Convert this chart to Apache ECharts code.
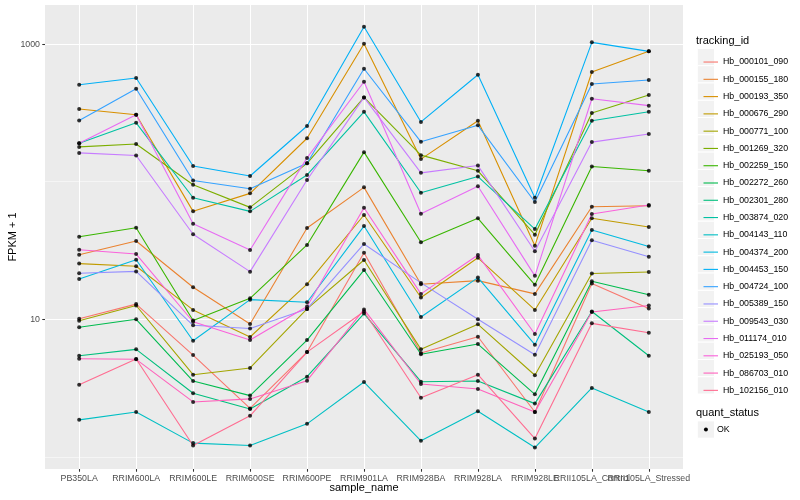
<!DOCTYPE html>
<html><head><meta charset="utf-8">
<script src="https://cdn.jsdelivr.net/npm/echarts@6/dist/echarts.min.js"></script>
<style>html,body{margin:0;padding:0;background:#fff}#c{width:800px;height:500px}</style>
</head><body><div id="c"></div>
<script>
// ---------- data ----------
const categories = ['PB350LA','RRIM600LA','RRIM600LE','RRIM600SE','RRIM600PE','RRIM901LA','RRIM928BA','RRIM928LA','RRIM928LE','RRII105LA_Control','RRII105LA_Stressed'];
const trackingIds = ['Hb_000101_090','Hb_000155_180','Hb_000193_350','Hb_000676_290','Hb_000771_100','Hb_001269_320','Hb_002259_150','Hb_002272_260','Hb_002301_280','Hb_003874_020','Hb_004143_110','Hb_004374_200','Hb_004453_150','Hb_004724_100','Hb_005389_150','Hb_009543_030','Hb_011174_010','Hb_025193_050','Hb_086703_010','Hb_102156_010'];
const seriesColors = ['#F8766D','#EA8331','#D89000','#C09B00','#A3A500','#7CAE00','#39B600','#00BB4E','#00BF7D','#00C1A3','#00BFC4','#00BAE0','#00B0F6','#35A2FF','#9590FF','#C77CFF','#E76BF3','#FA62DB','#FF62BC','#FF6C91'];

const hb000101_090 = [10.1, 12.9, 5.50, 2.25, 5.78, 30.5, 5.69, 7.47, 2.12, 18.2, 12.0];
const hb000155_180 = [29.5, 37.1, 17.1, 9.24, 46.1, 91.0, 18.0, 19.1, 15.3, 65.8, 66.9];
const hb000193_350 = [338, 307, 60.9, 82.3, 207, 1006, 146, 277, 34.3, 627, 886];
const hb000676_290 = [25.4, 24.3, 11.7, 7.44, 18.0, 57.3, 14.4, 28.0, 11.7, 54.2, 46.9];
const hb000771_100 = [9.77, 12.6, 3.96, 4.43, 11.9, 27.0, 6.05, 9.2, 3.92, 21.5, 22.1];
const hb001269_320 = [179, 188, 95.1, 65.1, 136, 410, 156, 120, 41.2, 316, 427];
const hb002259_150 = [39.8, 46.3, 9.8, 14.2, 34.7, 164, 36.3, 54.2, 17.8, 129, 120];
const hb002272_260 = [8.75, 10.0, 3.56, 2.79, 7.07, 22.8, 5.57, 6.61, 2.85, 18.9, 15.1];
const hb002301_280 = [5.44, 6.05, 2.90, 2.23, 3.83, 11.0, 3.52, 3.56, 2.44, 11.4, 5.44];
const hb003874_020 = [190, 268, 76.5, 60.9, 112, 322, 83.2, 109, 45.3, 277, 322];
const hb004143_110 = [1.86, 2.12, 1.26, 1.21, 1.74, 3.50, 1.31, 2.15, 1.17, 3.17, 2.12];
const hb004374_200 = [19.6, 27.1, 6.99, 13.9, 13.3, 47.6, 10.4, 20.1, 6.54, 44.6, 33.8];
const hb004453_150 = [507, 567, 130, 110, 254, 1338, 272, 599, 76.5, 1030, 886];
const hb004724_100 = [279, 474, 102, 88.9, 136, 662, 195, 257, 71.2, 513, 548];
const hb005389_150 = [21.6, 22.3, 9.05, 8.57, 11.9, 35.3, 18.4, 10.0, 5.53, 37.5, 28.5];
const hb009543_030 = [162, 155, 41.5, 22.2, 103, 410, 116, 131, 31.2, 194, 222];
const hb011174_010 = [190, 307, 49.5, 31.9, 149, 533, 58.5, 92.6, 20.7, 401, 357];
const hb025193_050 = [32.0, 29.8, 9.6, 7.07, 12.4, 64.7, 15.3, 29.3, 7.82, 58.3, 67.7];
const hb086703_010 = [5.17, 5.12, 2.51, 2.64, 3.58, 11.8, 3.39, 3.12, 2.12, 11.3, 12.6];
const hb102156_010 = [3.35, 5.15, 1.21, 1.99, 5.78, 11.4, 2.69, 3.96, 1.36, 9.35, 7.99];

const yTickValues = [10, 1000];
const yMinorValues = [1, 100];
const quantStatus = ['OK'];

const seriesValues = [hb000101_090, hb000155_180, hb000193_350, hb000676_290, hb000771_100, hb001269_320, hb002259_150, hb002272_260, hb002301_280, hb003874_020, hb004143_110, hb004374_200, hb004453_150, hb004724_100, hb005389_150, hb009543_030, hb011174_010, hb025193_050, hb086703_010, hb102156_010];

// ---------- chart ----------
const FONT = '"Liberation Sans", Arial, Helvetica, sans-serif';
const chart = echarts.init(document.getElementById('c'), null, {renderer: 'canvas'});
const xEven = categories.map((c, i) => i).filter(i => i % 2 === 0);
const xOdd = categories.map((c, i) => i).filter(i => i % 2 === 1);

const lineSeries = trackingIds.map((id, k) => ({
  type: 'line', name: id, xAxisIndex: 0, yAxisIndex: 0,
  data: seriesValues[k].map((v, i) => [i, v]),
  showSymbol: false, symbol: 'none',
  lineStyle: {color: seriesColors[k], width: 1.1},
  itemStyle: {color: seriesColors[k]},
  emphasis: {disabled: true}, silent: true, z: 2, animation: false
}));
const pts = [];
seriesValues.forEach(arr => arr.forEach((v, i) => pts.push([i, v])));
const pointSeries = {
  type: 'scatter', name: quantStatus[0], xAxisIndex: 0, yAxisIndex: 0, data: pts, symbol: 'circle', symbolSize: 4,
  itemStyle: {color: '#000'}, z: 3, silent: true, animation: false
};

const KEY = 17.28, LEG_TOP = 48.4, KEY_X = 697.3;
const graphics = [];
trackingIds.forEach((id, k) => {
  graphics.push({type: 'rect', z: 1, silent: true,
    shape: {x: KEY_X, y: LEG_TOP + KEY * k, width: KEY, height: KEY},
    style: {fill: '#F2F2F2', stroke: '#FFFFFF', lineWidth: 1}});
});
graphics.push({type: 'text', z: 1, silent: true, x: 696, y: 40.5,
  style: {text: 'tracking_id', fontSize: 11, fontFamily: FONT, fill: '#000', verticalAlign: 'middle', align: 'left'}});
graphics.push({type: 'text', z: 1, silent: true, x: 696, y: 412.7,
  style: {text: 'quant_status', fontSize: 11, fontFamily: FONT, fill: '#000', verticalAlign: 'middle', align: 'left'}});
graphics.push({type: 'rect', z: 1, silent: true,
  shape: {x: KEY_X, y: 420.9, width: KEY, height: KEY},
  style: {fill: '#F2F2F2', stroke: '#FFFFFF', lineWidth: 1}});
graphics.push({type: 'circle', z: 2, silent: true,
  shape: {cx: KEY_X + KEY / 2, cy: 420.9 + KEY / 2, r: 2},
  style: {fill: '#000'}});
graphics.push({type: 'text', z: 2, silent: true, x: 717, y: 420.9 + KEY / 2,
  style: {text: quantStatus[0], fontSize: 8.8, fontFamily: FONT, fill: '#000', verticalAlign: 'middle', align: 'left'}});

function makeXAxis(vals, withName) {
  const ax = {
    type: 'value', min: -0.6, max: 10.6, position: 'bottom', gridIndex: 0,
    axisLine: {show: false, onZero: false},
    axisTick: {show: true, length: 2.74, customValues: vals, lineStyle: {color: '#333333', width: 1.07}},
    axisLabel: {customValues: vals, formatter: v => categories[Math.round(v)] || '', fontSize: 8.8, fontFamily: FONT,
      color: '#4D4D4D', margin: 5, hideOverlap: false, showMinLabel: true, showMaxLabel: true},
    splitLine: {show: true, lineStyle: {color: '#FFFFFF', width: 1.07}}
  };
  if (withName) {
    ax.name = 'sample_name'; ax.nameLocation = 'middle'; ax.nameGap = 13.5; ax.nameMoveOverlap = false;
    ax.nameTextStyle = {fontSize: 11, fontFamily: FONT, color: '#000'};
  }
  return ax;
}

const option = {
  animation: false,
  backgroundColor: '#FFFFFF',
  grid: {left: 45, top: 5, width: 638, height: 464, show: true, backgroundColor: '#EBEBEB', borderWidth: 0,
    containLabel: false, outerBoundsMode: 'none'},
  legend: {
    orient: 'vertical', left: 698.5, top: LEG_TOP, itemWidth: 14.5, itemHeight: 1.1, itemGap: 0,
    selectedMode: false, z: 5,
    data: trackingIds.map((id, k) => ({name: id, icon: 'rect', itemStyle: {color: seriesColors[k]}})),
    textStyle: {fontSize: 8.8, fontFamily: FONT, color: '#000', lineHeight: KEY}
  },
  graphic: graphics,
  xAxis: [makeXAxis(xEven, true), makeXAxis(xOdd, false)],
  yAxis: [{
    type: 'log', logBase: 10, min: 0.817, max: 1924, position: 'left',
    axisLine: {show: false, onZero: false},
    axisTick: {show: true, length: 2.74, customValues: yTickValues, lineStyle: {color: '#333333', width: 1.07}},
    axisLabel: {customValues: yTickValues, formatter: v => String(Math.round(v)), fontSize: 8.8, fontFamily: FONT, color: '#4D4D4D', margin: 5},
    splitLine: {show: true, lineStyle: {color: '#FFFFFF', width: 1.07}},
    name: 'FPKM + 1', nameLocation: 'middle', nameGap: 27, nameMoveOverlap: false,
    nameTextStyle: {fontSize: 11, fontFamily: FONT, color: '#000'}
  }, {
    type: 'log', logBase: 10, min: 0.817, max: 1924, position: 'left',
    axisLine: {show: false, onZero: false},
    axisTick: {show: false, customValues: yMinorValues},
    axisLabel: {show: false, customValues: yMinorValues},
    splitLine: {show: true, lineStyle: {color: '#FFFFFF', width: 0.53}}
  }],
  series: lineSeries.concat([pointSeries])
};
chart.setOption(option);
</script>
</body></html>
